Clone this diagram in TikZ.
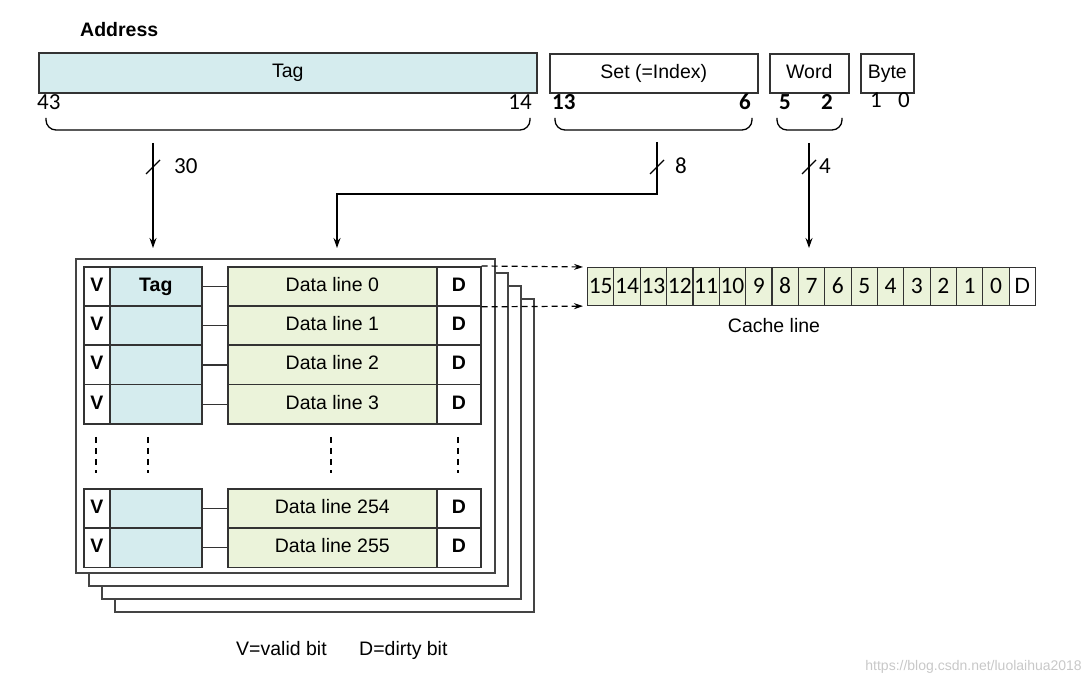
\documentclass[tikz,border=0pt]{standalone}
\usepackage{fontspec}
\setmainfont{Liberation Sans}
\newfontfamily\numf{Carlito}
\usetikzlibrary{arrows.meta}
\definecolor{tagc}{HTML}{D5ECEE}
\definecolor{datac}{HTML}{EBF3DA}
\definecolor{linec}{HTML}{333333}
\definecolor{framec}{HTML}{444444}
\definecolor{wmc}{HTML}{C8C8C8}
\begin{document}
\begin{tikzpicture}[x=1pt,y=-1pt,
  txt/.style={font=\fontsize{19.5}{22}\selectfont},
  btxt/.style={font=\bfseries\fontsize{19.5}{22}\selectfont},
  box/.style={draw=linec, line width=1.6pt, inner sep=0pt, anchor=north west, fill=white, txt, text height=14pt, text depth=4pt},
  tagbox/.style={box, fill=tagc},
  databox/.style={box, fill=datac},
  frame/.style={draw=framec, line width=1.4pt, fill=white},
  arr/.style={line width=1.3pt, -{Stealth[length=10pt,width=7pt]}},
  num/.style={font=\numf\fontsize{23}{26}\selectfont, inner sep=0pt},
  bnum/.style={font=\numf\bfseries\fontsize{23}{26}\selectfont, inner sep=0pt},
  brace/.style={line width=1.3pt, rounded corners=10pt},
  slash/.style={line width=1.2pt},
  dashline/.style={line width=1.2pt, dash pattern=on 6pt off 4pt, -{Stealth[length=9pt,width=6pt]}, shorten >=4pt},
  vdash/.style={line width=1.2pt, dash pattern=on 6pt off 5pt},
  lbl/.style={txt, inner sep=0pt},
  ccell/.style={draw=linec, line width=1.1pt, inner sep=0pt, anchor=north west, minimum width=26.35pt, minimum height=38pt, text height=16pt, text depth=3pt, font=\numf\fontsize{23.5}{26}\selectfont}
]
\useasboundingbox (0,0) rectangle (1090,684);

% Address fields
\node[btxt, inner sep=0pt, anchor=base west] (addr) at (80,37) {Address};
\node[tagbox, minimum width=498pt, minimum height=40pt] (tagf) at (38,52) {Tag};
\node[box, minimum width=208pt, minimum height=39pt] (setf) at (549,53) {Set (=Index)};
\node[box, minimum width=79pt, minimum height=39pt] (wordf) at (769,53) {Word};
\node[box, minimum width=53pt, minimum height=39pt] (bytef) at (860,53) {Byte};

% bit numbers
\node[num, anchor=base west] (b43) at (37,110) {43};
\node[num, anchor=base east] (b14) at (532,110) {14};
\node[bnum, anchor=base west] (b13) at (552,110) {13};
\node[bnum, anchor=base east] (b6) at (751,110) {6};
\node[bnum, anchor=base] (b5) at (785,110) {5};
\node[bnum, anchor=base] (b2) at (827,110) {2};
\node[num, anchor=base] (b1) at (876,108) {1};
\node[num, anchor=base] (b0) at (904,108) {0};

% braces
\draw[brace] (46,118) -- (46,130) -- (530,130) -- (530,118);
\draw[brace] (555,118) -- (555,130) -- (752,130) -- (752,118);
\draw[brace] (777,118) -- (777,130) -- (842,130) -- (842,118);

% arrows from address
\coordinate (tagsrc) at (153,143); \coordinate (tagdst) at (153,248);
\coordinate (setsrc) at (657,142); \coordinate (setdst) at (337,248);
\coordinate (wordsrc) at (809,143); \coordinate (worddst) at (809,248);
\draw[arr] (tagsrc) -- (tagdst);
\draw[arr] (setsrc) -- (657,194) -- (337,194) -- (setdst);
\draw[arr] (wordsrc) -- (worddst);
\draw[slash] (146,174) -- (160,160);
\draw[slash] (650,174) -- (664,160);
\draw[slash] (802,174) -- (816,160);
\node[num, anchor=base west] (n30) at (174,174) {30};
\node[num, anchor=base west] (n8) at (675,174) {8};
\node[num, anchor=base west] (n4) at (819,174) {4};

% stacked ways
\draw[frame] (115,299) rectangle (534,612);
\draw[frame] (102,286) rectangle (521,599);
\draw[frame] (89,273) rectangle (508,586);
\draw[frame] (76,259) rectangle (495,573);

\foreach \r/\y/\t in {0/266/Tag, 1/305.25/, 2/344.5/, 3/383.75/, 254/488/, 255/527.25/}{
  \node[box, btxt, minimum width=26pt, minimum height=39.25pt] (v\r) at (83,\y) {V};
  \node[tagbox, btxt, minimum width=92pt, minimum height=39.25pt] (t\r) at (109,\y) {\t};
  \node[databox, minimum width=209pt, minimum height=39.25pt] (d\r) at (227,\y) {Data line \r};
  \node[box, btxt, minimum width=44pt, minimum height=39.25pt] (dd\r) at (436,\y) {D};
  \draw[line width=1.3pt, linec] (t\r.east) -- (d\r.west);
}

% dotted continuation
\foreach \x in {96,148,331,458}{
  \draw[vdash] (\x,437) -- (\x,473);
}

% cache line
\foreach \lab [count=\k from 0] in {15,14,13,12,11,10,9,8,7,6,5,4,3,2,1,0}{
  \node[ccell, fill=datac] (c\k) at ({587+\k*26.35},267) {\lab};
}
\node[ccell, fill=white, font=\fontsize{22}{24}\selectfont] (cD) at ({587+16*26.35},267) {D};
\node[lbl, anchor=base] (cltxt) at (774,333) {Cache line};

\draw[dashline] (dd0.north east) -- (c0.north west);
\draw[dashline] (dd0.south east) -- (c0.south west);

% legend
\node[lbl, anchor=base west] (lv) at (236,655) {V=valid bit};
\node[lbl, anchor=base west] (ld) at (359,655) {D=dirty bit};
\node[font=\fontsize{14}{16}\selectfont, text=wmc, anchor=base east, inner sep=0pt] (wm) at (1082,670) {https://blog.csdn.net/luolaihua2018};
\end{tikzpicture}
\end{document}
